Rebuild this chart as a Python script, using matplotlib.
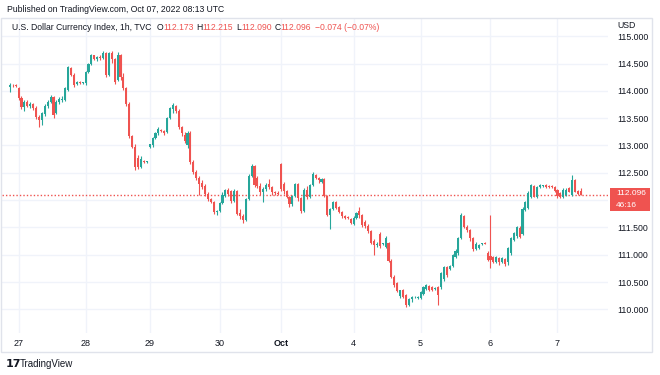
import numpy as np
import matplotlib
matplotlib.use("Agg")
import matplotlib.pyplot as plt
from matplotlib.patches import Rectangle

# hourly candles of DXY (Sep 26 evening .. Oct 7 08:00 UTC)
opens = [114.07, 114.11, 114.10, 114.06, 113.87, 113.70, 113.79, 113.73, 113.76, 113.69,
         113.52, 113.46, 113.58, 113.72, 113.80, 113.88, 113.60, 113.80, 113.84, 113.84,
         114.02, 114.42, 114.30, 114.12, 114.16, 114.15, 114.15, 114.34, 114.50, 114.65,
         114.58, 114.62, 114.60, 114.70, 114.30, 114.70, 114.58, 114.20, 114.66, 114.25,
         114.05, 113.76, 113.18, 112.98, 112.78, 112.60, 112.72, 112.70, 112.97, 113.00,
         113.14, 113.22, 113.28, 113.26, 113.24, 113.50, 113.66, 113.72, 113.64, 113.33,
         113.20, 113.00, 113.22, 112.70, 112.52, 112.40, 112.32, 112.26, 112.12, 112.02,
         111.97, 111.78, 111.80, 111.94, 112.08, 112.18, 112.16, 111.99, 112.17, 111.76,
         111.70, 111.64, 112.02, 112.45, 112.62, 112.40, 112.26, 112.14, 112.20, 112.30,
         112.24, 112.14, 112.13, 112.66, 112.30, 112.16, 112.06, 111.92, 112.08, 112.30,
         112.04, 111.80, 112.18, 112.06, 112.28, 112.46, 112.40, 112.34, 112.38, 112.08,
         111.72, 111.84, 111.96, 111.88, 111.78, 111.70, 111.68, 111.66, 111.56, 111.68,
         111.80, 111.72, 111.60, 111.52, 111.44, 111.26, 111.18, 111.38, 111.20, 111.14,
         111.21, 110.88, 110.60, 110.48, 110.24, 110.36, 110.26, 110.08, 110.18, 110.22,
         110.20, 110.21, 110.28, 110.38, 110.42, 110.40, 110.38, 110.40, 110.41, 110.56,
         110.78, 110.74, 110.80, 110.96, 111.03, 111.30, 111.70, 111.50, 111.45, 111.30,
         111.10, 111.13, 111.20, 111.21, 111.03, 110.98, 110.96, 110.87, 110.94, 110.86,
         110.92, 110.86, 111.03, 111.27, 111.34, 111.49, 111.38, 111.82, 111.86, 112.06,
         112.26, 112.06, 112.24, 112.26, 112.28, 112.25, 112.26, 112.24, 112.19, 112.13,
         112.06, 112.10, 112.22, 112.10, 112.37, 112.17, 112.173]
highs = [114.15, 114.13, 114.12, 114.08, 113.90, 113.83, 113.84, 113.80, 113.78, 113.72,
         113.56, 113.62, 113.76, 113.84, 113.92, 113.90, 113.84, 113.88, 113.90, 114.08,
         114.46, 114.44, 114.33, 114.18, 114.18, 114.17, 114.36, 114.52, 114.68, 114.66,
         114.64, 114.65, 114.73, 114.72, 114.72, 114.73, 114.60, 114.72, 114.68, 114.32,
         114.08, 113.80, 113.20, 113.02, 112.82, 112.80, 112.74, 112.72, 113.03, 113.16,
         113.25, 113.34, 113.30, 113.28, 113.52, 113.70, 113.78, 113.74, 113.66, 113.36,
         113.24, 113.26, 113.26, 112.74, 112.56, 112.44, 112.36, 112.30, 112.14, 112.04,
         111.99, 111.82, 111.96, 112.14, 112.20, 112.22, 112.18, 112.20, 112.19, 111.84,
         111.74, 112.04, 112.48, 112.66, 112.64, 112.44, 112.31, 112.24, 112.32, 112.38,
         112.26, 112.16, 112.16, 112.68, 112.34, 112.18, 112.08, 112.10, 112.32, 112.32,
         112.06, 112.22, 112.26, 112.30, 112.52, 112.48, 112.42, 112.40, 112.40, 112.10,
         111.86, 111.98, 111.98, 111.90, 111.80, 111.72, 111.70, 111.68, 111.70, 111.78,
         111.88, 111.74, 111.64, 111.56, 111.46, 111.28, 111.24, 111.42, 111.22, 111.34,
         111.24, 110.92, 110.62, 110.50, 110.36, 110.38, 110.28, 110.20, 110.24, 110.25,
         110.25, 110.34, 110.42, 110.46, 110.44, 110.42, 110.40, 110.42, 110.68, 110.80,
         110.80, 110.82, 111.02, 111.10, 111.32, 111.76, 111.72, 111.54, 111.47, 111.32,
         111.24, 111.20, 111.22, 111.23, 111.06, 111.72, 110.98, 110.98, 110.96, 110.96,
         110.94, 111.14, 111.32, 111.42, 111.52, 111.52, 111.88, 111.98, 112.16, 112.30,
         112.28, 112.26, 112.30, 112.28, 112.30, 112.27, 112.28, 112.26, 112.21, 112.15,
         112.22, 112.22, 112.24, 112.46, 112.38, 112.19, 112.215]
lows = [113.98, 114.08, 114.07, 113.84, 113.66, 113.63, 113.70, 113.68, 113.65, 113.48,
        113.34, 113.38, 113.54, 113.68, 113.78, 113.50, 113.58, 113.76, 113.80, 113.82,
        114.00, 114.28, 114.08, 114.10, 114.13, 114.13, 114.10, 114.32, 114.48, 114.56,
        114.55, 114.56, 114.58, 114.26, 114.28, 114.52, 114.12, 114.18, 114.20, 114.02,
        113.72, 113.14, 112.95, 112.56, 112.57, 112.58, 112.68, 112.68, 112.95, 112.98,
        113.12, 113.20, 113.24, 113.20, 113.22, 113.48, 113.60, 113.60, 113.30, 113.18,
        113.05, 112.95, 112.66, 112.48, 112.36, 112.10, 112.20, 112.08, 111.98, 111.94,
        111.74, 111.72, 111.78, 111.92, 112.05, 112.08, 111.95, 111.96, 111.72, 111.66,
        111.58, 111.62, 112.00, 112.42, 112.24, 112.22, 112.10, 111.96, 112.16, 112.20,
        112.10, 112.10, 112.10, 112.16, 112.12, 112.04, 111.88, 111.90, 112.06, 111.98,
        111.76, 111.78, 112.02, 112.04, 112.26, 112.38, 112.32, 112.32, 112.06, 111.70,
        111.47, 111.82, 111.84, 111.76, 111.68, 111.66, 111.65, 111.56, 111.54, 111.66,
        111.68, 111.50, 111.48, 111.40, 111.20, 111.00, 111.14, 111.12, 111.18, 111.12,
        110.86, 110.58, 110.40, 110.32, 110.20, 110.20, 110.04, 110.06, 110.14, 110.20,
        110.18, 110.18, 110.26, 110.36, 110.34, 110.34, 110.36, 110.08, 110.38, 110.52,
        110.60, 110.72, 110.78, 110.94, 111.00, 111.28, 111.48, 111.42, 111.26, 111.06,
        111.08, 111.10, 111.18, 111.19, 110.88, 110.76, 110.84, 110.85, 110.82, 110.84,
        110.80, 110.82, 111.00, 111.25, 111.30, 111.30, 111.36, 111.80, 111.84, 112.04,
        112.05, 112.04, 112.22, 112.24, 112.22, 112.23, 112.22, 112.14, 112.04, 112.04,
        112.04, 112.08, 112.14, 112.08, 112.14, 112.09, 112.090]
closes = [114.11, 114.10, 114.09, 113.87, 113.70, 113.79, 113.73, 113.76, 113.69, 113.52,
          113.46, 113.60, 113.72, 113.80, 113.89, 113.56, 113.80, 113.86, 113.86, 114.05,
          114.43, 114.30, 114.11, 114.16, 114.15, 114.15, 114.34, 114.50, 114.65, 114.58,
          114.62, 114.60, 114.70, 114.30, 114.70, 114.58, 114.16, 114.66, 114.25, 114.05,
          113.76, 113.18, 112.98, 112.60, 112.60, 112.76, 112.70, 112.70, 113.02, 113.14,
          113.22, 113.31, 113.26, 113.22, 113.50, 113.68, 113.74, 113.64, 113.33, 113.22,
          113.08, 113.22, 112.70, 112.52, 112.40, 112.30, 112.24, 112.12, 112.02, 111.97,
          111.78, 111.80, 111.94, 112.10, 112.18, 112.12, 111.99, 112.17, 111.75, 111.70,
          111.64, 112.02, 112.45, 112.62, 112.28, 112.26, 112.14, 112.20, 112.28, 112.24,
          112.14, 112.13, 112.12, 112.20, 112.16, 112.06, 111.92, 112.08, 112.30, 112.04,
          111.80, 112.18, 112.06, 112.28, 112.48, 112.40, 112.36, 112.38, 112.08, 111.72,
          111.84, 111.96, 111.86, 111.78, 111.70, 111.68, 111.67, 111.58, 111.68, 111.76,
          111.72, 111.54, 111.52, 111.44, 111.22, 111.18, 111.20, 111.16, 111.21, 111.31,
          110.88, 110.60, 110.44, 110.34, 110.35, 110.22, 110.08, 110.18, 110.22, 110.23,
          110.23, 110.32, 110.40, 110.44, 110.36, 110.36, 110.38, 110.26, 110.66, 110.78,
          110.62, 110.80, 111.00, 111.07, 111.30, 111.72, 111.50, 111.45, 111.30, 111.10,
          111.20, 111.18, 111.21, 111.20, 110.90, 110.90, 110.87, 110.95, 110.86, 110.94,
          110.83, 111.12, 111.30, 111.40, 111.50, 111.32, 111.84, 111.96, 112.13, 112.28,
          112.06, 112.24, 112.28, 112.26, 112.24, 112.24, 112.24, 112.16, 112.07, 112.06,
          112.19, 112.19, 112.15, 112.37, 112.15, 112.11, 112.096]

day_ticks = [3, 26, 48, 72, 93, 118, 141, 165, 188]
day_labels = ["27", "28", "29", "30", "Oct", "4", "5", "6", "7"]
price_ticks = [110.0, 110.5, 111.0, 111.5, 112.0, 112.5, 113.0, 113.5, 114.0, 114.5, 115.0]
last_price = 112.096

green = "#26a69a"
red = "#ef5350"
ink = "#131722"
grid = "#f0f3fa"
plt.rcParams["font.family"] = ["Liberation Sans", "DejaVu Sans"]

W, H = 660, 375
fig = plt.figure(figsize=(W / 100, H / 100), dpi=100)


def px(x, y):
    return x / W, 1 - y / H


# frame of the widget
fig.patches.append(Rectangle(px(1, 352), 651 / W, 334 / H, transform=fig.transFigure,
                             fill=False, edgecolor="#e0e3eb", lw=1))

ax = fig.add_axes([0.003, 0.112, 0.918, 0.84])
o = np.array(opens); h = np.array(highs); l = np.array(lows); c = np.array(closes)
idx = np.arange(len(c))
cols = np.where(c >= o, green, red)

for y in price_ticks:
    ax.axhline(y, color=grid, lw=1, zorder=0)
for x in day_ticks:
    ax.axvline(x, color=grid, lw=1, zorder=0)

ax.vlines(idx, l, h, colors=cols, lw=0.8, zorder=2)
ax.bar(idx, np.maximum(np.abs(c - o), 0.012), bottom=np.minimum(o, c), width=0.72,
       color=cols, linewidth=0, zorder=3)
ax.axhline(last_price, color=red, lw=1, ls=(0, (1, 1.5)), zorder=1)

ax.set_xlim(-2.7, 205.3)
ax.set_ylim(109.566, 115.335)
for s in ax.spines.values():
    s.set_visible(False)
ax.yaxis.tick_right()
ax.set_yticks(price_ticks)
# the 112.000 label sits under the last-price badge, so it is not shown
ax.set_yticklabels(["" if abs(v - 112.0) < 1e-9 else f"{v:.3f}" for v in price_ticks])
ax.tick_params(axis="y", length=0, pad=7, labelsize=6.3, labelcolor=ink)
ax.set_xticks(day_ticks)
ax.set_xticklabels(day_labels)
ax.tick_params(axis="x", length=0, pad=4, labelsize=6.5, labelcolor=ink)
for t in ax.get_xticklabels():
    if t.get_text() == "Oct":
        t.set_fontweight("bold")

# last price badge
fig.patches.append(Rectangle(px(610, 211), 40 / W, 23 / H, transform=fig.transFigure,
                             facecolor=red, edgecolor="none"))
fig.text(*px(616, 193), "112.096", color="white", fontsize=6, va="center", ha="left")
fig.text(*px(616, 205.5), "46:16", color="white", fontsize=6, va="center", ha="left")
fig.text(*px(617, 26), "USD", color=ink, fontsize=6.3, va="center", ha="left")

# header
fig.text(*px(7, 10), "Published on TradingView.com, Oct 07, 2022 08:13 UTC",
         color=ink, fontsize=6.2, va="center", ha="left")
renderer = fig.canvas.get_renderer()
parts = [("U.S. Dollar Currency Index, 1h, TVC", ink, 5), ("O", ink, 0),
         ("112.173", red, 3), ("H", ink, 0), ("112.215", red, 3), ("L", ink, 0),
         ("112.090", red, 3), ("C", ink, 0), ("112.096", red, 4),
         ("\u22120.074 (\u22120.07%)", red, 0)]
x = 12
for s, col, gap in parts:
    t = fig.text(*px(x, 28), s, color=col, fontsize=6.2, va="center", ha="left")
    x += t.get_window_extent(renderer).width + gap

# footer logo
fig.text(*px(6, 364), "17", color=ink, fontsize=8, fontweight="heavy",
         va="center", ha="left", family="DejaVu Sans")
fig.text(*px(20, 364), "TradingView", color=ink, fontsize=7, va="center", ha="left")

fig.savefig("out.png", dpi=100, facecolor="white")
